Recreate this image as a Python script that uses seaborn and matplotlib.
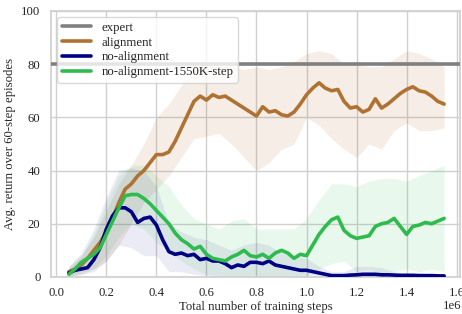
import numpy as np
import pandas as pd
import matplotlib
matplotlib.use("Agg")
import matplotlib.pyplot as plt
import seaborn as sns
from matplotlib.lines import Line2D

# ---------------- data (x in units of 1e6 steps) ----------------
steps = [0.05, 0.075, 0.1, 0.125, 0.15, 0.175, 0.2, 0.225, 0.25, 0.275,
         0.3, 0.325, 0.35, 0.375, 0.4, 0.425, 0.45, 0.475, 0.5, 0.525,
         0.55, 0.575, 0.6, 0.625, 0.65, 0.675, 0.7, 0.725, 0.75, 0.775,
         0.8, 0.825, 0.85, 0.875, 0.9, 0.925, 0.95, 0.975, 1.0, 1.025,
         1.05, 1.075, 1.1, 1.125, 1.15, 1.175, 1.2, 1.225, 1.25, 1.275,
         1.3, 1.325, 1.35, 1.375, 1.4, 1.425, 1.45, 1.475, 1.5, 1.525, 1.55]

alignment = [2, 3, 4.5, 7, 10, 13, 17, 22, 28, 33,
             35, 38, 40, 43, 46, 46, 47, 51, 56, 61,
             66, 68, 66.5, 68.5, 67.5, 68, 66.5, 65, 63.5, 62,
             60.5, 64, 62, 62.5, 61, 60.5, 62, 65, 68.5, 71,
             73, 71, 70, 70.5, 66, 63.5, 64, 62, 63, 67,
             63.5, 65, 67, 69, 70.5, 71.5, 70, 69.5, 68, 66, 65]

no_alignment = [1.5, 2.5, 3, 3.5, 6.5, 11, 18, 23, 26, 26,
                24.5, 20.5, 22, 22.5, 19.5, 14, 9.5, 8.5, 9, 8,
                8.5, 6.5, 7, 6, 6, 5, 3.5, 4.5, 4, 5.5,
                5.5, 5, 6, 4.5, 4, 3.5, 3, 2.5, 2.5, 2,
                1.5, 1, 0.5, 0.5, 0.5, 0.7, 0.8, 1, 1, 1,
                0.8, 0.8, 0.7, 0.6, 0.6, 0.6, 0.5, 0.5, 0.5, 0.4, 0.4]

no_alignment_1550k = [1, 3, 5.5, 7, 8.5, 11, 16, 21, 26, 30.5,
                      31, 31, 29.5, 27.5, 25, 22.5, 20, 16.5, 14, 12.5,
                      10.5, 11.5, 8.5, 7, 6.5, 6, 7.5, 8.5, 10, 8,
                      7.5, 8.5, 7, 9, 10, 9, 7, 8.5, 8, 12,
                      16, 19, 21.5, 22.5, 17.5, 15.5, 14.5, 15, 15.5, 19,
                      20, 20.5, 22, 19, 16, 19, 19.5, 20.5, 20, 21, 22]

band_steps = [0.05, 0.1, 0.15, 0.2, 0.25, 0.3, 0.35, 0.4, 0.45, 0.5,
              0.55, 0.6, 0.65, 0.7, 0.75, 0.8, 0.85, 0.9, 0.95, 1.0,
              1.05, 1.1, 1.15, 1.2, 1.25, 1.3, 1.35, 1.4, 1.45, 1.5, 1.55]

alignment_low = [0, 1, 3, 6, 12, 20, 28, 33, 38, 45,
                 52, 53, 54, 50, 45, 40, 43, 48, 50, 60,
                 57, 52, 48, 45, 50, 48, 55, 58, 55, 55, 56]
alignment_high = [4, 8, 15, 25, 35, 42, 50, 60, 65, 72,
                  78, 80, 80, 79, 78, 79, 78, 79, 81, 84,
                  85, 84, 80, 80, 79, 79, 82, 85, 84, 82, 79]

no_alignment_low = [0, 1, 2, 6, 12, 11, 8, 8, 2, 2,
                    1, 0.5, 0, 0, 0, 0, 0, 0, 0, 0,
                    0, 0, 0, 0, 0, 0, 0, 0, 0, 0, 0]
no_alignment_high = [4, 9, 18, 30, 40, 41, 40, 34, 20, 17,
                     15, 14, 12, 10, 12, 13, 12, 9, 8, 7,
                     4, 2, 2, 4, 4, 3.5, 2, 1.5, 1.5, 1, 1]

no_alignment_1550k_low = [0, 2, 3, 8, 15, 20, 18, 13, 10, 6,
                          3, 1, 0.5, 0.5, 0.5, 0.5, 0.5, 0.5, 0.5, 0.5,
                          3, 5, 6, 2, 3, 1, 2, 3, 2, 3, 2]
no_alignment_1550k_high = [3, 8, 16, 28, 38, 42, 42, 38, 34, 27,
                           22, 20, 18, 21, 22, 18, 18, 18, 18, 22,
                           29, 35, 35, 34, 36, 37, 37, 36, 38, 40, 42]

expert_level = 80

labels = ["expert", "alignment", "no-alignment", "no-alignment-1550K-step"]
colors = ["#808080", "#b07233", "#000085", "#2dbb4e"]

# ---------------- style ----------------
FS = 9.2
sns.set_theme(style="whitegrid")
plt.rcParams["font.family"] = ["Liberation Serif", "DejaVu Serif"]
plt.rcParams["font.size"] = FS
plt.rcParams["axes.edgecolor"] = "#d0d0d0"
plt.rcParams["grid.color"] = "#d0d0d0"

fig, ax = plt.subplots(figsize=(4.62, 3.14), dpi=100)
fig.subplots_adjust(left=0.11, right=0.996, top=0.965, bottom=0.118)

xs = np.array(steps) * 1e6
bx = np.array(band_steps) * 1e6

series = [
    (labels[1], alignment, alignment_low, alignment_high, colors[1], 0.12),
    (labels[2], no_alignment, no_alignment_low, no_alignment_high, colors[2], 0.08),
    (labels[3], no_alignment_1550k, no_alignment_1550k_low, no_alignment_1550k_high, colors[3], 0.10),
]

for name, vals, lo, hi, col, a in series:
    ax.fill_between(bx, lo, hi, color=col, alpha=a, linewidth=0)

ax.axhline(expert_level, color=colors[0], linewidth=2.6, zorder=3)

df = pd.concat([pd.DataFrame({"step": xs, "ret": vals, "method": name})
                for name, vals, lo, hi, col, a in series], ignore_index=True)
sns.lineplot(data=df, x="step", y="ret", hue="method",
             palette=dict(zip(labels[1:], colors[1:])),
             linewidth=2.6, ax=ax, legend=False, zorder=4)

ax.set_xlim(-0.022e6, 1.614e6)
ax.set_ylim(0, 100)
ax.set_xticks(np.arange(0, 1.61e6, 0.2e6))
ax.set_xticklabels([f"{v:.1f}" for v in np.arange(0, 1.61, 0.2)])
ax.set_yticks([0, 20, 40, 60, 80, 100])
ax.tick_params(axis="both", labelsize=FS, pad=1.5)
ax.set_xlabel("Total number of training steps", fontsize=FS, labelpad=1)
ax.set_ylabel("Avg. return over 60-step episodes", fontsize=FS, labelpad=4)
ax.text(1.003, -0.11, "1e6", transform=ax.transAxes, ha="right", va="center",
        fontsize=FS)

handles = [Line2D([0], [0], color=c, linewidth=2.6) for c in colors]
leg = ax.legend(handles, labels, loc="upper left", fontsize=FS,
                frameon=True, handlelength=2.3, borderpad=0.35,
                labelspacing=0.22, bbox_to_anchor=(0.0, 1.0))
leg.get_frame().set_edgecolor("#d0d0d0")
leg.get_frame().set_alpha(0.8)

fig.savefig("out.png", dpi=100)
